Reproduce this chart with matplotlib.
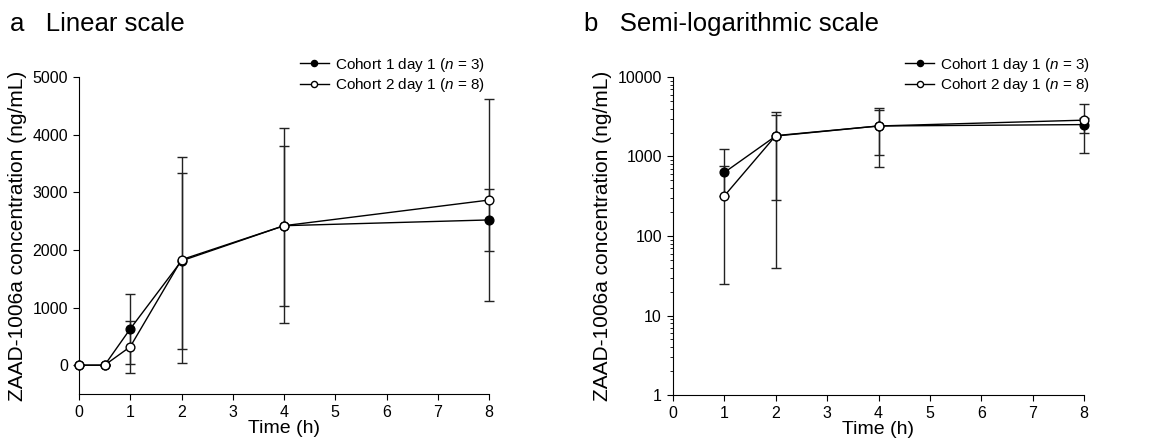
import matplotlib
matplotlib.use('Agg')
import matplotlib.pyplot as plt
import numpy as np
from matplotlib.ticker import LogLocator, NullFormatter

plt.rcParams['font.family'] = ['Liberation Sans', 'DejaVu Sans']
plt.rcParams['mathtext.fontset'] = 'custom'
plt.rcParams['mathtext.it'] = 'Liberation Sans:italic'
plt.rcParams['mathtext.rm'] = 'Liberation Sans'

# 数据
time_h = [0, 0.5, 1, 2, 4, 8]
c1_mean = [0, 0, 630, 1810, 2420, 2520]
c1_sd = [0, 0, 605, 1530, 1390, 545]
c2_mean = [0, 0, 320, 1830, 2420, 2865]
c2_sd = [0, 0, 450, 1790, 1690, 1760]
c1_label = 'Cohort 1 day 1 ($n$ = 3)'
c2_label = 'Cohort 2 day 1 ($n$ = 8)'
ylabel = 'ZAAD-1006a concentration (ng/mL)'
xticks = [0, 1, 2, 3, 4, 5, 6, 7, 8]

fig = plt.figure(figsize=(11.5, 4.44), dpi=100)
ax1 = fig.add_axes([79/1150, 1-394/444, (489-79)/1150, (394-77)/444])
ax2 = fig.add_axes([673/1150, 1-395/444, (1084-673)/1150, (395-77)/444])

fig.text(10/1150, 1-24/444, 'a   Linear scale', fontsize=18.5, va='center', ha='left')
fig.text(584/1150, 1-24/444, 'b   Semi-logarithmic scale', fontsize=18.5, va='center', ha='left')


def draw(ax, legend_x, log=False):
    t = np.array(time_h, dtype=float)
    for mean, sd, face, lab in [(c1_mean, c1_sd, 'black', c1_label),
                                (c2_mean, c2_sd, 'white', c2_label)]:
        m = np.array(mean, dtype=float)
        s = np.array(sd, dtype=float)
        lo = s.copy()
        if log:
            # 对数坐标下去掉0值点，负的下限不画
            keep = m > 0
            t_, m_, s_ = t[keep], m[keep], s[keep]
            lo = np.where(m_ - s_ > 0, s_, 0)
        else:
            t_, m_, s_ = t, m, s
        ax.errorbar(t_, m_, yerr=[lo, s_], fmt='none', ecolor='#222222',
                    elinewidth=1.0, capsize=3.5, capthick=1.0, zorder=2,
                    clip_on=False)
        ax.plot(t_, m_, '-o', color='black', lw=1.0, markersize=6.3,
                markerfacecolor=face, markeredgecolor='black', mew=1.0,
                label=lab, zorder=3, clip_on=False)

    ax.set_xlim(0, 8)
    ax.set_xticks(xticks)
    ax.spines['top'].set_visible(False)
    ax.spines['right'].set_visible(False)
    ax.tick_params(labelsize=11.5, length=4.5, width=0.8, direction='out')
    ax.set_xlabel('Time (h)', fontsize=14, labelpad=0)
    ax.set_ylabel(ylabel, fontsize=15, labelpad=4)
    ax.legend(loc='lower right', bbox_to_anchor=(legend_x, 0.945), frameon=False,
              fontsize=11, handlelength=1.9, handletextpad=0.4, markerscale=0.7,
              labelspacing=0.18, borderaxespad=0, borderpad=0)


draw(ax1, 0.99)
ax1.set_ylim(-500, 5000)
ax1.set_yticks([0, 1000, 2000, 3000, 4000, 5000])

draw(ax2, 1.015, log=True)
ax2.set_yscale('log')
ax2.set_ylim(1, 10000)
ax2.set_yticks([1, 10, 100, 1000, 10000])
ax2.set_yticklabels(['1', '10', '100', '1000', '10000'])
ax2.yaxis.set_minor_locator(LogLocator(base=10, subs=np.arange(2, 10)))
ax2.yaxis.set_minor_formatter(NullFormatter())
ax2.tick_params(axis='y', which='minor', length=2.5, width=0.6)

fig.savefig('out.png', dpi=100)
